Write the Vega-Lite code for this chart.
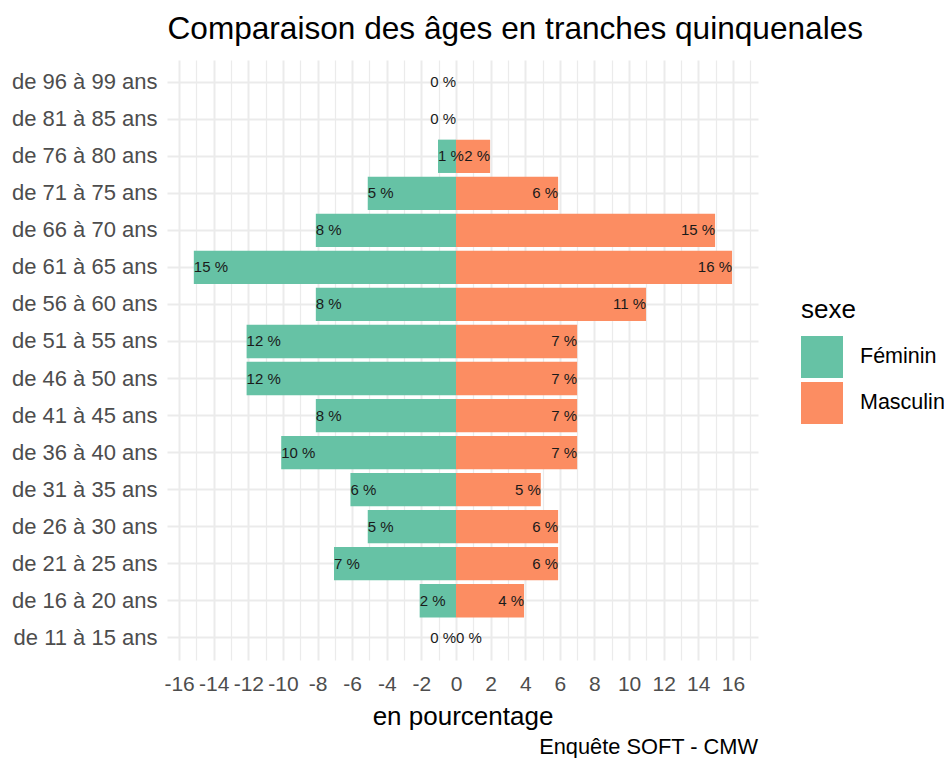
{
  "$schema": "https://vega.github.io/schema/vega-lite/v6.json",
  "width": 591,
  "height": 600,
  "autosize": {"type": "none"},
  "padding": {"left": 167, "top": 60, "right": 186, "bottom": 98},
  "background": "white",
  "config": {
    "font": "Liberation Sans",
    "view": {"stroke": null}
  },
  "title": {
    "text": "Enquête SOFT - CMW",
    "orient": "bottom",
    "anchor": "end",
    "frame": "group",
    "fontSize": 21.8,
    "fontWeight": "normal",
    "color": "#000000",
    "offset": 8
  },
  "data": {
    "values": [
      {"tranche": "de 96 à 99 ans", "sexe": "Masculin", "valeur": 0, "etiquette": "0 %"},
      {"tranche": "de 81 à 85 ans", "sexe": "Masculin", "valeur": 0, "etiquette": "0 %"},
      {"tranche": "de 76 à 80 ans", "sexe": "Féminin", "valeur": -1.04, "etiquette": "1 %"},
      {"tranche": "de 76 à 80 ans", "sexe": "Masculin", "valeur": 1.97, "etiquette": "2 %"},
      {"tranche": "de 71 à 75 ans", "sexe": "Féminin", "valeur": -5.1, "etiquette": "5 %"},
      {"tranche": "de 71 à 75 ans", "sexe": "Masculin", "valeur": 5.9, "etiquette": "6 %"},
      {"tranche": "de 66 à 70 ans", "sexe": "Féminin", "valeur": -8.1, "etiquette": "8 %"},
      {"tranche": "de 66 à 70 ans", "sexe": "Masculin", "valeur": 14.97, "etiquette": "15 %"},
      {"tranche": "de 61 à 65 ans", "sexe": "Féminin", "valeur": -15.15, "etiquette": "15 %"},
      {"tranche": "de 61 à 65 ans", "sexe": "Masculin", "valeur": 15.95, "etiquette": "16 %"},
      {"tranche": "de 56 à 60 ans", "sexe": "Féminin", "valeur": -8.1, "etiquette": "8 %"},
      {"tranche": "de 56 à 60 ans", "sexe": "Masculin", "valeur": 10.98, "etiquette": "11 %"},
      {"tranche": "de 51 à 55 ans", "sexe": "Féminin", "valeur": -12.1, "etiquette": "12 %"},
      {"tranche": "de 51 à 55 ans", "sexe": "Masculin", "valeur": 7.0, "etiquette": "7 %"},
      {"tranche": "de 46 à 50 ans", "sexe": "Féminin", "valeur": -12.1, "etiquette": "12 %"},
      {"tranche": "de 46 à 50 ans", "sexe": "Masculin", "valeur": 7.0, "etiquette": "7 %"},
      {"tranche": "de 41 à 45 ans", "sexe": "Féminin", "valeur": -8.1, "etiquette": "8 %"},
      {"tranche": "de 41 à 45 ans", "sexe": "Masculin", "valeur": 7.0, "etiquette": "7 %"},
      {"tranche": "de 36 à 40 ans", "sexe": "Féminin", "valeur": -10.1, "etiquette": "10 %"},
      {"tranche": "de 36 à 40 ans", "sexe": "Masculin", "valeur": 7.0, "etiquette": "7 %"},
      {"tranche": "de 31 à 35 ans", "sexe": "Féminin", "valeur": -6.1, "etiquette": "6 %"},
      {"tranche": "de 31 à 35 ans", "sexe": "Masculin", "valeur": 4.9, "etiquette": "5 %"},
      {"tranche": "de 26 à 30 ans", "sexe": "Féminin", "valeur": -5.1, "etiquette": "5 %"},
      {"tranche": "de 26 à 30 ans", "sexe": "Masculin", "valeur": 5.9, "etiquette": "6 %"},
      {"tranche": "de 21 à 25 ans", "sexe": "Féminin", "valeur": -7.05, "etiquette": "7 %"},
      {"tranche": "de 21 à 25 ans", "sexe": "Masculin", "valeur": 5.9, "etiquette": "6 %"},
      {"tranche": "de 16 à 20 ans", "sexe": "Féminin", "valeur": -2.1, "etiquette": "2 %"},
      {"tranche": "de 16 à 20 ans", "sexe": "Masculin", "valeur": 3.93, "etiquette": "4 %"},
      {"tranche": "de 11 à 15 ans", "sexe": "Féminin", "valeur": 0, "etiquette": "0 %"},
      {"tranche": "de 11 à 15 ans", "sexe": "Masculin", "valeur": 0, "etiquette": "0 %"}
    ]
  },
  "resolve": {"axis": {"x": "independent"}},
  "layer": [
    {
      "mark": {"type": "bar"},
      "encoding": {
        "y": {
          "field": "tranche",
          "type": "nominal",
          "scale": {
            "type": "band",
            "domain": ["de 96 à 99 ans", "de 81 à 85 ans", "de 76 à 80 ans", "de 71 à 75 ans", "de 66 à 70 ans", "de 61 à 65 ans", "de 56 à 60 ans", "de 51 à 55 ans", "de 46 à 50 ans", "de 41 à 45 ans", "de 36 à 40 ans", "de 31 à 35 ans", "de 26 à 30 ans", "de 21 à 25 ans", "de 16 à 20 ans", "de 11 à 15 ans"],
            "paddingInner": 0.1,
            "paddingOuter": 0.15
          },
          "axis": {
            "title": null,
            "grid": true,
            "gridColor": "#EBEBEB",
            "gridWidth": 2,
            "ticks": false,
            "domain": false,
            "labelFontSize": 22,
            "labelColor": "#4D4D4D",
            "labelPadding": 10
          }
        },
        "x": {
          "field": "valeur",
          "type": "quantitative",
          "scale": {"domain": [-16.7, 17.45], "nice": false},
          "axis": {
            "values": [-16, -15, -14, -13, -12, -11, -10, -9, -8, -7, -6, -5, -4, -3, -2, -1, 0, 1, 2, 3, 4, 5, 6, 7, 8, 9, 10, 11, 12, 13, 14, 15, 16, 17],
            "labelExpr": "datum.value % 2 === 0 ? '' + datum.value : ''",
            "title": "en pourcentage",
            "grid": true,
            "gridColor": "#EBEBEB",
            "gridWidth": {"condition": {"test": "datum.value % 2 === 0", "value": 2}, "value": 1.2},
            "ticks": false,
            "domain": false,
            "labelFontSize": 21,
            "labelColor": "#4D4D4D",
            "labelPadding": 13,
            "labelFlush": false,
            "labelOverlap": false,
            "titleFontSize": 26,
            "titleFontWeight": "normal",
            "titleColor": "#000000",
            "titlePadding": 9
          }
        },
        "x2": {"datum": 0},
        "color": {
          "field": "sexe",
          "type": "nominal",
          "scale": {"domain": ["Féminin", "Masculin"], "range": ["#66C2A5", "#FC8D62"]},
          "legend": {
            "title": "sexe",
            "orient": "none",
            "legendX": 634,
            "legendY": 237,
            "titleFontSize": 26,
            "titleFontWeight": "normal",
            "titleColor": "#000000",
            "titlePadding": 13,
            "labelFontSize": 21.5,
            "labelColor": "#000000",
            "labelOffset": 17,
            "symbolType": "square",
            "symbolSize": 1764,
            "symbolStrokeWidth": 0,
            "symbolOpacity": 1,
            "rowPadding": 4,
            "padding": 0
          }
        }
      }
    },
    {
      "transform": [{"filter": "datum.sexe === 'Féminin'"}],
      "mark": {"type": "text", "align": "left", "baseline": "middle", "fontSize": 15, "color": "#1a1a1a"},
      "encoding": {
        "y": {"field": "tranche", "type": "nominal"},
        "x": {"field": "valeur", "type": "quantitative", "axis": null},
        "text": {"field": "etiquette"}
      }
    },
    {
      "transform": [{"filter": "datum.sexe === 'Masculin'"}],
      "mark": {"type": "text", "align": "right", "baseline": "middle", "fontSize": 15, "color": "#1a1a1a"},
      "encoding": {
        "y": {"field": "tranche", "type": "nominal"},
        "x": {
          "field": "valeur",
          "type": "quantitative",
          "axis": {
            "orient": "top",
            "title": "Comparaison des âges en tranches quinquenales",
            "titleFontSize": 31.6,
            "titleFontWeight": "normal",
            "titleColor": "#000000",
            "titleAnchor": "start",
            "titleAlign": "left",
            "titlePadding": 15,
            "labels": false,
            "ticks": false,
            "domain": false,
            "grid": false
          }
        },
        "text": {"field": "etiquette"}
      }
    }
  ]
}
